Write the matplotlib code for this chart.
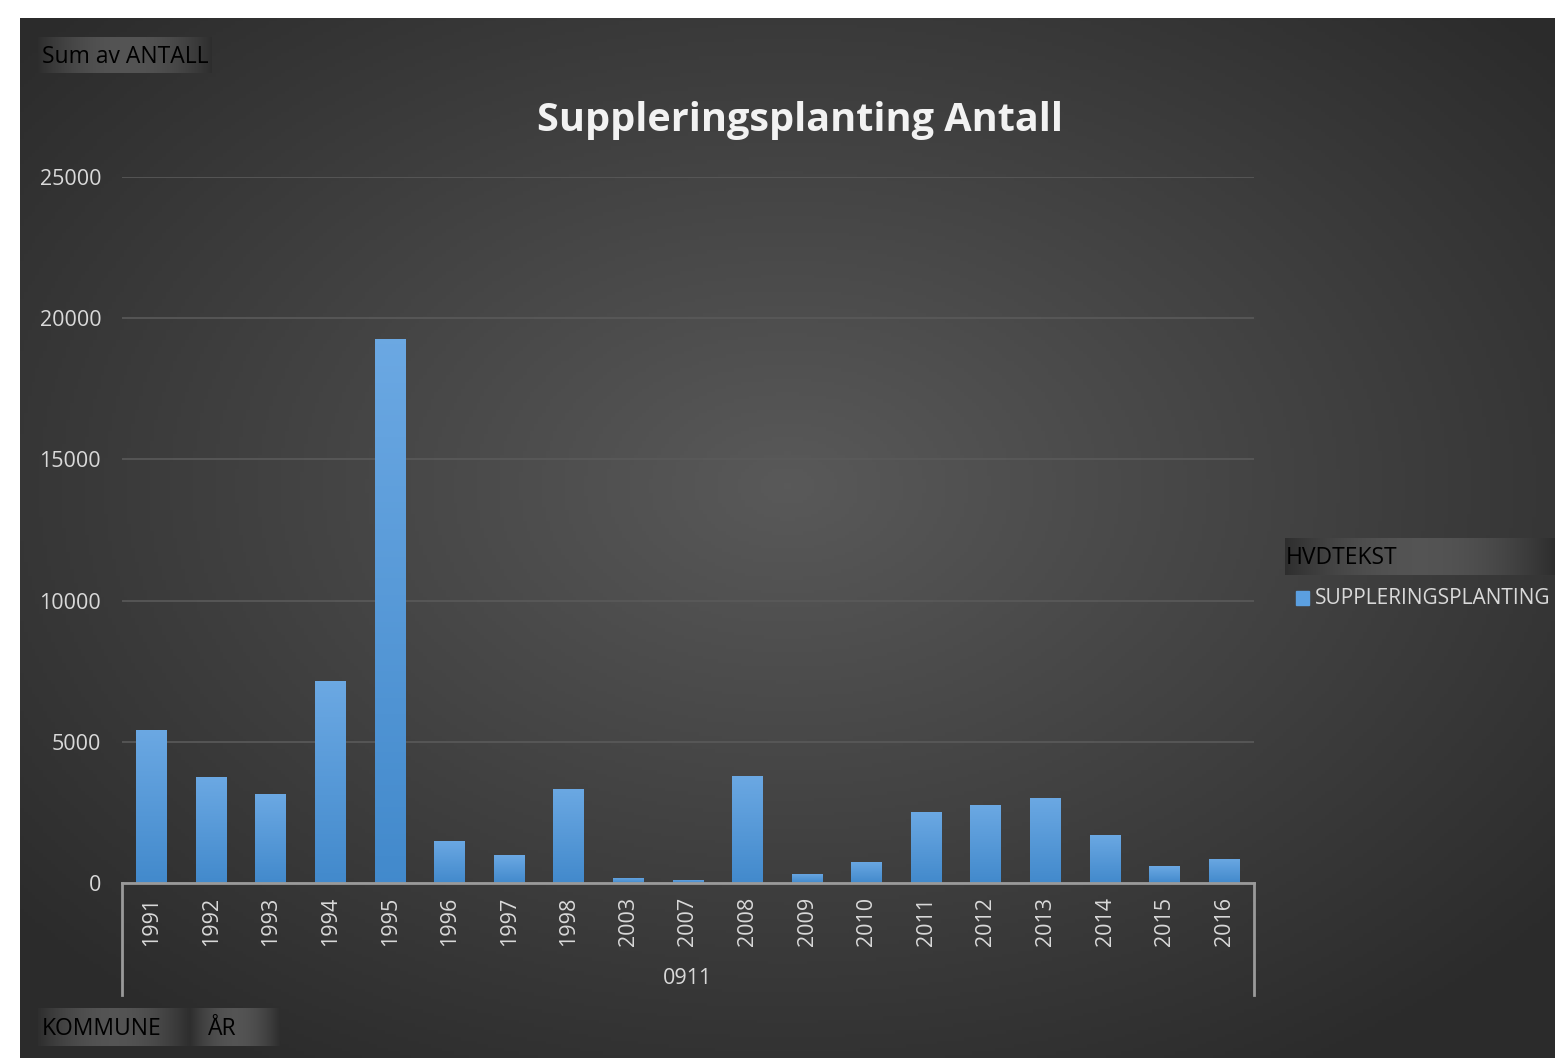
import numpy as np
import matplotlib.pyplot as plt

# data
years = ["1991", "1992", "1993", "1994", "1995", "1996", "1997", "1998", "2003", "2007",
         "2008", "2009", "2010", "2011", "2012", "2013", "2014", "2015", "2016"]
antall = [5420, 3750, 3150, 7150, 19260, 1490, 990, 3330, 180, 110,
          3790, 320, 750, 2510, 2760, 3010, 1700, 600, 850]
yticks = [0, 5000, 10000, 15000, 20000, 25000]
kommune = "0911"
series_name = "SUPPLERINGSPLANTING"

W, H = 1555, 1058
fig = plt.figure(figsize=(W / 100, H / 100), dpi=100)
fig.patch.set_facecolor("white")

def fx(px):
    return px / W

def fy(py):
    return 1 - py / H

# radial gradient background panel
bg = fig.add_axes([fx(20), 0, fx(W - 20), fy(18)])
gx, gy = np.meshgrid(np.linspace(0, 1, 400), np.linspace(0, 1, 300))
r = np.sqrt(((gx - 0.5) / 0.8) ** 2 + ((gy - 0.45) / 0.8) ** 2)
shade = np.clip(0.35 - 0.22 * r, 0.17, 0.35)
bg.imshow(np.dstack([shade] * 3), aspect="auto", extent=[0, 1, 0, 1], origin="upper")
bg.axis("off")

# field buttons
def button(x0, y0, x1, y1, label, pad=2):
    a = fig.add_axes([fx(x0), fy(y1), fx(x1 - x0), fy(y0) - fy(y1)])
    t = np.linspace(-1, 1, 200)
    prof = 0.33 - 0.15 * t ** 2
    a.imshow(np.dstack([np.tile(prof, (10, 1))] * 3), aspect="auto", extent=[0, 1, 0, 1])
    a.axis("off")
    a.text(0.0 + pad / (x1 - x0), 0.45, label, transform=a.transAxes, ha="left", va="center",
           fontsize=16.5, color="black", family="Open Sans")

button(38, 37, 212, 73, "Sum av ANTALL", pad=4)
button(1285, 538, 1555, 575, "HVDTEKST", pad=1)
button(38, 1008, 190, 1046, "KOMMUNE", pad=4)
button(190, 1008, 280, 1046, "ÅR", pad=18)

# main plot
ax = fig.add_axes([fx(122), fy(883), fx(1254 - 122), fy(177) - fy(883)])
ax.set_facecolor("none")
x = np.arange(len(years))
bars = ax.bar(x, antall, width=0.52, color="#4f8fd1", zorder=3)

# vertical blue gradient on each bar
grad = np.linspace(0, 1, 100).reshape(-1, 1)
top_c = np.array([0.42, 0.66, 0.89])
bot_c = np.array([0.26, 0.54, 0.80])
img = (top_c * (1 - grad[..., None]) + bot_c * grad[..., None])
for b in bars:
    bx, bw, bh = b.get_x(), b.get_width(), b.get_height()
    im = ax.imshow(img, extent=[bx, bx + bw, 0, bh], aspect="auto", origin="upper", zorder=4)
    im.set_clip_path(b)
ax.set_xlim(-0.5, len(years) - 0.5)
ax.set_ylim(0, 25000)

ax.set_yticks(yticks)
ax.set_yticklabels([str(v) for v in yticks], fontsize=15.5, color="#d9d9d9", family="Open Sans")
ax.yaxis.grid(True, color="#5a5a5a", linewidth=1.2, zorder=0)
ax.tick_params(axis="y", length=0, pad=15)
ax.set_xticks(x)
ax.set_xticklabels(years, rotation=90, fontsize=15.5, color="#d9d9d9", family="Open Sans")
ax.tick_params(axis="x", length=0, pad=10)
for s in ["top", "right", "left"]:
    ax.spines[s].set_visible(False)
ax.spines["bottom"].set_color("#9a9a9a")
ax.spines["bottom"].set_linewidth(2)
ax.spines["bottom"].set_zorder(5)

# category group bracket
for px in (122, 1254):
    fig.add_artist(plt.Line2D([fx(px), fx(px)], [fy(883), fy(995)], color="#9a9a9a", linewidth=2))
fig.text(fx(688), fy(979), kommune, ha="center", va="center", fontsize=15.5,
         color="#d9d9d9", family="Open Sans")

# title
fig.text(fx(800), fy(121), "Suppleringsplanting Antall", ha="center", va="center",
         fontsize=28.5, fontweight="bold", color="#f2f2f2", family="Open Sans")

# legend
fig.patches.append(plt.Rectangle((fx(1296), fy(605)), fx(13), fy(591) - fy(605),
                                 transform=fig.transFigure, color="#5b9fe0", figure=fig))
fig.text(fx(1315), fy(598), series_name, ha="left", va="center", fontsize=15,
         color="#d9d9d9", family="Open Sans")

fig.savefig("out.png", dpi=100, facecolor=fig.get_facecolor())
